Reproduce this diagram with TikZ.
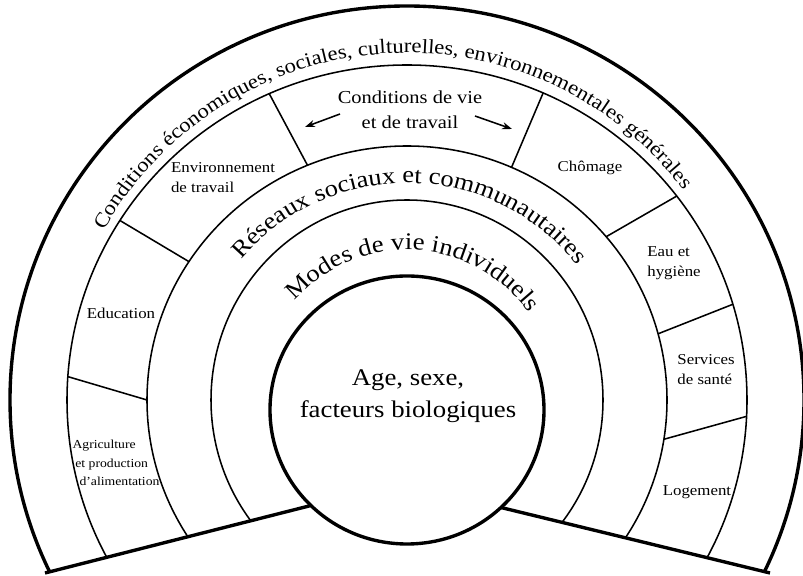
\documentclass[tikz,border=0pt]{standalone}
\usepackage{fontspec}
\setmainfont{Liberation Serif}[FakeStretch=1.12]
\usetikzlibrary{arrows.meta,calc,decorations.text}

\begin{document}
\begin{tikzpicture}[
    x = 0.025cm, y = 0.025cm, % one unit = one pixel of the original
    > = {Stealth[length=7pt, width=5pt]}, % arrow head style
    ring/.style = {line width = 1.1pt},
    heavy/.style = {line width = 2.4pt},
  ]

  \tikzset{
    label/.style = {font = \fontsize{10.7}{14.2}\selectfont, align = left, inner sep = 0pt},
    tiny label/.style = {font = \fontsize{8.7}{13.2}\selectfont, align = left, inner sep = 0pt},
    title/.style = {font = \fontsize{13}{17.8}\selectfont, align = center, inner sep = 0pt}
  }

  \useasboundingbox (0,0) rectangle (803,576);

  \coordinate (O) at (407,176); % centre of the rings
  \coordinate (C) at (407,166); % centre of the core
  \coordinate (lc) at (45,3);
  \coordinate (lm) at (313,71);
  \coordinate (rc) at (770,3);
  \coordinate (rm) at (503,68);

  % rings, cut by the two base lines
  \begin{scope}
    \clip (-20,-13.5) -- (407,93) -- (830,-11.6) -- (830,600) -- (-20,600) -- cycle;
    \draw[heavy] (O) ellipse [x radius=397, y radius=394];
    \draw[ring] (O) ellipse [x radius=340, y radius=335];
    \draw[ring] (O) ellipse [x radius=260, y radius=254];
    \draw[ring] (O) ellipse [x radius=196, y radius=200];
  \end{scope}

  % sectors of the living and working conditions
  \draw[ring] ([shift={(176:340 and 335)}]O) -- ([shift={(180:260 and 254)}]O);
  \draw[ring] ([shift={(147.6:340 and 335)}]O) -- ([shift={(147:260 and 254)}]O);
  \draw[ring] ([shift={(113.9:340 and 335)}]O) -- ([shift={(112.5:260 and 254)}]O);
  \draw[ring] ([shift={(66.4:340 and 335)}]O) -- ([shift={(66.3:260 and 254)}]O);
  \draw[ring] ([shift={(37.5:340 and 335)}]O) -- ([shift={(40:260 and 254)}]O);
  \draw[ring] ([shift={(16.6:340 and 335)}]O) -- ([shift={(15.1:260 and 254)}]O);
  \draw[ring] ([shift={(-2.8:340 and 335)}]O) -- ([shift={(-8.9:260 and 254)}]O);

  \draw[heavy] (lc) -- ($(lc)!1.1!(lm)$);
  \draw[heavy] (rc) -- ($(rc)!1.1!(rm)$);
  \draw[heavy, fill=white] (C) ellipse [x radius=137, y radius=134];

  % curved titles
  \path[decorate, decoration={text along path, text align=center,
      text={|\fontsize{14.4}{17}\selectfont|Conditions économiques, sociales, culturelles, environnementales générales}}]
    ([shift={(176:347)}]O) arc[start angle=176, end angle=12, radius=347];
  \path[decorate, decoration={text along path, text align=center,
      text={|\fontsize{16.8}{19}\selectfont|Réseaux sociaux et communautaires}}]
    ([shift={(170:217)}]O) arc[start angle=170, end angle=8, radius=217];
  \path[decorate, decoration={text along path, text align=center,
      text={|\fontsize{17}{19}\selectfont|Modes de vie individuels}}]
    ([shift={(170:150)}]O) arc[start angle=170, end angle=4, radius=150];

  \node[font=\fontsize{17}{22.8}\selectfont, align=center] (age) at (408,180) {Age, sexe,\\facteurs biologiques};

  \node[title] (cdv) at (410,466) {Conditions de vie\\et de travail};
  \coordinate (al1) at (340,462);
  \coordinate (al2) at (305,449);
  \coordinate (ar1) at (475,460);
  \coordinate (ar2) at (512,447);
  \draw[->, ring] (al1) -- (al2);
  \draw[->, ring] (ar1) -- (ar2);

  \node[label] (env) at (223,398) {Environnement\\de travail};
  \node[label] (edu) at (121,263) {Education};
  \node[tiny label] (agri) at (116,113) {Agriculture\\\hspace{2pt}et production\\\hspace{5pt}d'alimentation};
  \node[label] (chom) at (590,408) {Chômage};
  \node[label] (eau) at (674,313) {Eau et\\hygiène};
  \node[label] (serv) at (706,206) {Services\\de santé};
  \node[label] (loge) at (697,84) {Logement};
\end{tikzpicture}
\end{document}
